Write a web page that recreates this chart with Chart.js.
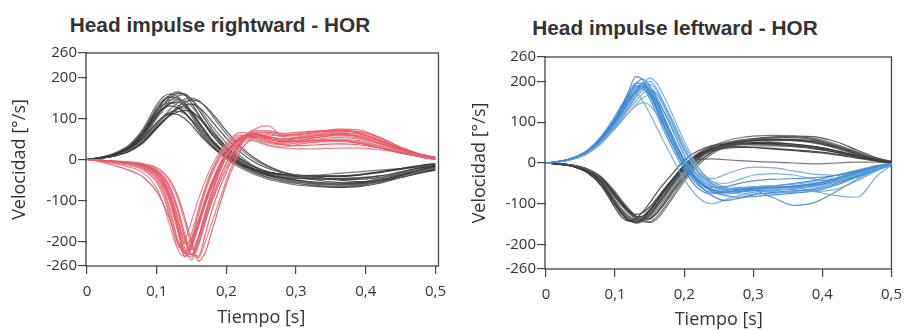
<!DOCTYPE html>
<html>
<head>
<meta charset="utf-8">
<title>Head impulse - HOR</title>
<script src="https://cdn.jsdelivr.net/npm/chart.js@4.4.0/dist/chart.umd.min.js"></script>
<style>
  body { margin: 0; background: #fff; }
  #wrap { position: relative; width: 911px; height: 331px; overflow: hidden; }
  .titulo {
    position: absolute; width: 400px; text-align: center; white-space: nowrap;
    font-family: "Liberation Sans", Arial, sans-serif; font-weight: bold;
    font-size: 20.8px; line-height: 24px; color: #333;
  }
  canvas { position: absolute; top: 0; }
</style>
</head>
<body>
<div id="wrap">
  <div class="titulo" style="left: 20px; top: 13px;">Head impulse rightward - HOR</div>
  <div class="titulo" style="left: 475px; top: 16px;">Head impulse leftward - HOR</div>
  <canvas id="derecha" width="455" height="331" style="left: 0;"></canvas>
  <canvas id="izquierda" width="456" height="331" style="left: 455px;"></canvas>
</div>
<script>
// sample times (s), shared by every trace
var tiempo = [0, 0.02, 0.04, 0.06, 0.08, 0.10, 0.11, 0.12, 0.13, 0.14, 0.15, 0.16, 0.17, 0.18,
              0.20, 0.22, 0.24, 0.26, 0.28, 0.30, 0.33, 0.36, 0.39, 0.42, 0.45, 0.48, 0.50];

var xTicks = [0, 0.1, 0.2, 0.3, 0.4, 0.5];
var xTickLabels = ['0', '0,1', '0,2', '0,3', '0,4', '0,5'];
var yTicks = [-260, -200, -100, 0, 100, 200, 260];

// rightward impulses: head velocity (grey)
var cabezaDer = [
  [0, 4, 13, 30, 64, 118, 142, 158, 165, 158, 138, 110, 82, 58, 22, -6, -24, -36, -44, -50, -55, -58, -57, -50, -38, -24, -16],
  [0, 5, 15, 33, 70, 128, 148, 155, 148, 130, 106, 80, 56, 36, 6, -16, -32, -44, -52, -58, -64, -66, -62, -52, -38, -26, -20],
  [0, 4, 12, 27, 58, 106, 126, 137, 140, 132, 114, 90, 66, 44, 12, -12, -28, -38, -44, -46, -48, -48, -46, -40, -30, -20, -14],
  [0, 3, 10, 22, 46, 86, 106, 124, 138, 147, 150, 144, 128, 106, 62, 26, 0, -18, -30, -38, -44, -48, -48, -44, -36, -28, -22],
  [0, 4, 12, 26, 52, 90, 104, 112, 110, 100, 84, 64, 46, 30, 6, -12, -24, -32, -36, -38, -40, -40, -38, -32, -24, -16, -12],
  [0, 4, 11, 25, 54, 104, 126, 144, 155, 158, 148, 128, 104, 80, 40, 8, -16, -32, -42, -50, -58, -62, -62, -56, -44, -30, -22],
  [0, 5, 14, 31, 64, 112, 126, 131, 126, 114, 96, 74, 52, 34, 6, -16, -32, -44, -52, -58, -64, -68, -66, -58, -44, -30, -24],
  [0, 3, 10, 24, 52, 100, 122, 138, 145, 143, 130, 110, 86, 64, 26, -4, -24, -38, -48, -54, -60, -62, -58, -48, -34, -22, -16],
  [0, 3, 9, 20, 42, 80, 96, 108, 116, 120, 116, 104, 86, 66, 30, 2, -18, -30, -36, -40, -42, -42, -38, -30, -22, -14, -10],
  [0, 5, 16, 35, 74, 134, 154, 160, 154, 136, 110, 84, 60, 40, 10, -12, -26, -34, -38, -40, -38, -34, -30, -26, -22, -18, -16],
  [0, 3, 9, 19, 40, 76, 94, 110, 124, 132, 135, 128, 112, 92, 52, 18, -6, -22, -32, -38, -44, -50, -54, -52, -44, -32, -26],
  [0, 4, 13, 29, 60, 112, 134, 146, 148, 138, 118, 94, 70, 48, 16, -8, -24, -34, -40, -44, -46, -46, -44, -40, -34, -28, -24],
  [0, 4, 14, 32, 68, 122, 144, 152, 150, 138, 116, 90, 66, 46, 14, -10, -28, -40, -48, -54, -60, -62, -60, -52, -40, -26, -18],
  [0, 3, 10, 22, 46, 84, 102, 116, 124, 126, 118, 102, 82, 62, 26, -2, -22, -36, -46, -52, -58, -60, -56, -46, -32, -20, -14],
  [0, 4, 12, 28, 60, 110, 134, 152, 161, 160, 146, 122, 96, 72, 32, 2, -18, -30, -38, -42, -46, -48, -48, -44, -36, -26, -20],
  [0, 5, 15, 34, 70, 120, 134, 138, 132, 116, 94, 70, 48, 30, 2, -20, -36, -48, -56, -62, -66, -68, -64, -54, -40, -26, -20],
  [0, 3, 9, 20, 42, 76, 94, 112, 128, 140, 145, 142, 130, 112, 70, 32, 4, -16, -30, -40, -50, -56, -58, -54, -44, -32, -26],
  [0, 4, 11, 25, 50, 90, 106, 116, 118, 112, 98, 80, 60, 42, 12, -10, -24, -32, -36, -38, -40, -40, -36, -30, -22, -14, -10]
];

// rightward impulses: eye velocity (red)
var ojoDer = [
  [0, -2, -5, -9, -15, -34, -58, -100, -165, -238, -215, -160, -105, -60, 15, 55, 62, 52, 46, 50, 58, 62, 56, 40, 24, 10, 4],
  [0, -3, -7, -12, -22, -50, -85, -140, -205, -222, -180, -120, -66, -22, 38, 66, 60, 50, 48, 54, 60, 62, 54, 38, 22, 8, 2],
  [0, -2, -5, -8, -13, -28, -45, -75, -125, -190, -232, -205, -150, -100, -20, 40, 70, 70, 64, 66, 70, 72, 66, 48, 28, 12, 6],
  [0, -2, -4, -7, -11, -22, -35, -58, -95, -150, -210, -240, -200, -150, -50, 30, 66, 64, 56, 58, 62, 66, 60, 42, 24, 10, 4],
  [0, -6, -15, -26, -42, -78, -110, -152, -200, -230, -205, -150, -95, -50, 18, 50, 56, 50, 44, 44, 46, 46, 40, 28, 16, 6, 0],
  [0, -2, -5, -9, -14, -32, -52, -88, -150, -215, -245, -210, -150, -95, -10, 48, 74, 82, 56, 46, 48, 50, 46, 34, 20, 8, 2],
  [0, -2, -5, -8, -13, -30, -50, -85, -140, -205, -195, -150, -100, -55, 15, 50, 56, 46, 36, 34, 36, 38, 36, 28, 18, 8, 4],
  [0, -3, -6, -10, -18, -42, -72, -125, -195, -228, -200, -135, -78, -32, 30, 54, 46, 34, 30, 36, 44, 48, 44, 32, 18, 8, 2],
  [0, -2, -4, -6, -10, -20, -32, -52, -88, -140, -200, -248, -225, -170, -60, 20, 54, 60, 58, 60, 66, 74, 72, 54, 30, 12, 4],
  [0, -2, -6, -10, -17, -38, -62, -105, -170, -220, -205, -160, -105, -60, 10, 44, 46, 36, 28, 26, 26, 28, 28, 24, 16, 6, 0],
  [0, -2, -5, -9, -15, -34, -56, -95, -160, -225, -238, -195, -135, -80, 6, 46, 60, 52, 44, 46, 54, 60, 58, 44, 26, 10, 2],
  [0, -3, -7, -12, -20, -46, -78, -130, -198, -226, -192, -130, -74, -30, 24, 50, 50, 42, 40, 44, 50, 54, 50, 38, 22, 10, 4],
  [0, -3, -7, -12, -20, -42, -66, -108, -172, -228, -232, -188, -128, -74, 10, 52, 64, 56, 50, 52, 58, 64, 62, 46, 26, 10, 2],
  [0, -4, -10, -18, -32, -70, -112, -168, -214, -200, -150, -96, -50, -12, 40, 60, 52, 40, 36, 40, 46, 48, 42, 30, 16, 6, 0],
  [0, -2, -5, -8, -12, -26, -42, -70, -118, -180, -232, -236, -180, -120, -30, 36, 64, 66, 60, 62, 68, 70, 64, 46, 26, 10, 4],
  [0, -3, -7, -11, -18, -40, -64, -108, -170, -226, -212, -164, -110, -64, 8, 48, 58, 50, 42, 40, 42, 44, 40, 30, 18, 8, 2],
  [0, -2, -5, -9, -15, -34, -54, -90, -145, -198, -220, -190, -140, -90, -8, 42, 60, 56, 50, 54, 62, 70, 68, 52, 30, 12, 6],
  [0, -3, -8, -14, -25, -56, -92, -150, -218, -236, -196, -128, -70, -26, 32, 58, 54, 44, 40, 46, 54, 58, 52, 38, 22, 8, 2]
];

// leftward impulses: head velocity (grey)
var cabezaIzq = [
  [0, -3, -8, -20, -48, -100, -124, -140, -146, -138, -118, -94, -70, -48, -8, 20, 36, 46, 52, 56, 58, 56, 50, 38, 22, 8, 2],
  [0, -2, -7, -17, -40, -82, -104, -122, -134, -140, -130, -110, -88, -64, -20, 12, 32, 44, 50, 54, 56, 54, 48, 36, 20, 8, 0],
  [0, -3, -9, -24, -56, -110, -134, -142, -136, -120, -98, -74, -52, -32, 6, 30, 42, 46, 48, 50, 50, 46, 40, 30, 18, 6, 0],
  [0, -2, -6, -15, -34, -70, -92, -112, -130, -142, -146, -138, -118, -94, -46, -6, 22, 38, 46, 50, 54, 56, 54, 44, 28, 10, 2],
  [0, -2, -7, -18, -42, -84, -104, -118, -126, -122, -108, -88, -66, -46, -10, 18, 34, 42, 46, 48, 48, 46, 40, 30, 18, 6, 0],
  [0, -3, -8, -21, -50, -96, -120, -136, -142, -136, -120, -98, -74, -52, -12, 18, 40, 54, 62, 66, 68, 66, 58, 42, 24, 8, 0],
  [0, -2, -6, -16, -38, -78, -100, -118, -132, -140, -138, -124, -104, -80, -36, 2, 26, 40, 46, 48, 46, 42, 36, 26, 16, 6, 0],
  [0, -3, -8, -20, -46, -94, -120, -138, -148, -142, -124, -100, -74, -50, -8, 24, 42, 50, 54, 58, 62, 64, 60, 46, 26, 8, 0],
  [0, -2, -7, -18, -40, -80, -102, -120, -132, -130, -116, -96, -74, -52, -12, 16, 30, 36, 38, 38, 36, 32, 28, 22, 14, 6, 2],
  [0, -3, -9, -22, -52, -102, -126, -140, -142, -132, -114, -92, -68, -46, -6, 24, 38, 44, 46, 46, 44, 40, 34, 26, 16, 6, 0],
  [0, -2, -6, -15, -35, -74, -96, -116, -130, -138, -136, -122, -100, -76, -30, 8, 34, 48, 56, 60, 64, 66, 64, 52, 32, 12, 4],
  [0, -3, -8, -20, -46, -92, -114, -130, -138, -132, -116, -94, -70, -48, -6, 8, 10, 8, 6, 4, 2, 0, -2, 0, 2, 2, 0],
  [0, -3, -9, -22, -50, -98, -122, -138, -144, -140, -126, -104, -80, -56, -14, 16, 34, 44, 50, 54, 56, 56, 52, 40, 24, 10, 2],
  [0, -2, -7, -17, -40, -84, -106, -124, -136, -138, -128, -108, -84, -60, -16, 14, 30, 38, 40, 42, 42, 40, 36, 28, 18, 8, 2],
  [0, -3, -8, -20, -46, -92, -116, -132, -140, -138, -126, -106, -84, -60, -18, 12, 32, 44, 52, 58, 62, 62, 56, 42, 24, 8, 0],
  [0, -2, -6, -16, -38, -80, -102, -120, -132, -138, -132, -116, -94, -70, -24, 10, 30, 40, 44, 46, 46, 44, 38, 28, 16, 6, 0],
  [0, -3, -9, -23, -54, -104, -128, -142, -144, -134, -116, -92, -68, -46, -6, 22, 36, 40, 40, 38, 34, 30, 26, 20, 12, 4, 0],
  [0, -2, -6, -15, -36, -76, -98, -118, -134, -144, -144, -132, -112, -88, -40, 0, 28, 44, 52, 56, 58, 58, 54, 42, 26, 10, 2]
];

// leftward impulses: eye velocity (blue)
var ojoIzq = [
  [0, 4, 12, 28, 58, 104, 140, 178, 212, 204, 172, 132, 92, 56, -10, -54, -72, -72, -66, -62, -60, -56, -50, -38, -22, -8, -2],
  [0, 3, 10, 24, 50, 88, 112, 138, 164, 190, 208, 196, 166, 130, 54, -10, -50, -70, -76, -72, -68, -64, -58, -46, -28, -12, -4],
  [0, 4, 12, 28, 58, 100, 126, 154, 178, 192, 180, 148, 110, 74, 6, -42, -64, -70, -66, -62, -60, -58, -52, -40, -24, -10, -4],
  [0, 3, 10, 24, 50, 86, 106, 124, 140, 148, 142, 120, 92, 62, 4, -38, -58, -64, -60, -58, -56, -52, -46, -36, -22, -8, -2],
  [0, 4, 13, 30, 62, 110, 142, 172, 196, 196, 174, 138, 98, 60, -6, -50, -80, -92, -86, -78, -72, -68, -64, -50, -30, -12, -4],
  [0, 3, 11, 26, 54, 94, 118, 144, 170, 190, 200, 184, 150, 112, 36, -22, -52, -62, -62, -60, -62, -66, -70, -64, -44, -18, -6],
  [0, 4, 12, 28, 60, 104, 132, 162, 190, 186, 158, 120, 82, 46, -18, -62, -76, -68, -60, -66, -86, -104, -96, -70, -40, -16, -6],
  [0, 3, 10, 24, 50, 90, 112, 136, 160, 178, 184, 170, 140, 106, 34, -24, -54, -64, -62, -58, -56, -60, -70, -80, -84, -30, -6],
  [0, 4, 13, 30, 64, 110, 138, 168, 194, 206, 190, 156, 116, 78, 8, -40, -60, -58, -50, -44, -40, -38, -36, -30, -20, -8, -2],
  [0, 4, 14, 32, 66, 116, 144, 166, 170, 152, 122, 88, 54, 22, -40, -84, -100, -90, -80, -76, -74, -70, -62, -46, -26, -10, -4],
  [0, 3, 11, 26, 54, 96, 122, 150, 172, 185, 184, 162, 128, 92, 20, -32, -58, -66, -64, -60, -56, -50, -42, -30, -18, -6, 0],
  [0, 4, 12, 28, 58, 102, 130, 158, 182, 196, 186, 154, 116, 78, 10, -30, -38, -28, -16, -10, -12, -20, -28, -30, -22, -10, -4],
  [0, 4, 12, 27, 56, 98, 124, 152, 176, 188, 176, 144, 106, 70, 4, -44, -68, -76, -72, -68, -66, -62, -56, -44, -26, -10, -2],
  [0, 3, 10, 23, 48, 84, 104, 124, 144, 160, 166, 154, 128, 98, 30, -20, -50, -62, -64, -62, -60, -56, -50, -40, -26, -10, -4],
  [0, 4, 13, 30, 62, 108, 136, 164, 186, 190, 168, 130, 92, 56, -4, -46, -70, -80, -84, -82, -78, -74, -68, -54, -34, -14, -4],
  [0, 3, 11, 25, 52, 92, 116, 142, 166, 184, 192, 178, 146, 110, 36, -20, -46, -50, -40, -30, -26, -30, -40, -44, -34, -14, -4],
  [0, 4, 12, 28, 58, 102, 128, 154, 176, 182, 166, 134, 98, 64, 2, -44, -66, -72, -70, -66, -62, -58, -54, -46, -34, -16, -6],
  [0, 3, 10, 24, 50, 88, 110, 132, 152, 170, 178, 170, 146, 116, 44, -12, -44, -60, -66, -68, -70, -72, -68, -54, -32, -12, -2]
];

// two tones per group, alternated trace by trace
var GRISES = ['rgba(52, 52, 52, 0.85)', 'rgba(96, 96, 96, 0.85)'];
var ROJOS = ['rgba(232, 84, 98, 0.9)', 'rgba(226, 122, 132, 0.9)'];
var AZULES = ['rgba(62, 138, 214, 0.9)', 'rgba(112, 166, 216, 0.9)'];
var TEXTO = '#333';

// turn a list of traces into line datasets
function trazos(series, colores) {
  return series.map(function(valores, n) {
    return {
      data: valores.map(function(v, i) { return { x: tiempo[i], y: v }; }),
      borderColor: colores[n % colores.length],
      borderWidth: 1.2,
      pointRadius: 0,
      fill: false,
      cubicInterpolationMode: 'monotone'
    };
  });
}

// box around the plot area
var marco = {
  id: 'marco',
  beforeDatasetsDraw: function(chart, args, opts) {
    var a = chart.chartArea;
    var ctx = chart.ctx;
    ctx.save();
    ctx.strokeStyle = '#444';
    ctx.lineWidth = 1.3;
    ctx.strokeRect(a.left - 1, a.top, a.right - a.left + 1 + (opts.extra || 0), a.bottom - a.top);
    ctx.restore();
  }
};

function grafico(id, datasets, g) {
  var ctx = document.getElementById(id).getContext('2d');
  return new Chart(ctx, {
    type: 'line',
    data: { datasets: datasets },
    plugins: [marco],
    options: {
      responsive: false,
      animation: false,
      events: [],
      layout: { padding: { left: 0, right: g.right, top: g.top, bottom: 0 } },
      plugins: {
        legend: { display: false },
        tooltip: { enabled: false },
        marco: { extra: g.extra }
      },
      scales: {
        x: {
          type: 'linear',
          min: 0,
          max: 0.5,
          afterBuildTicks: function(s) { s.ticks = xTicks.map(function(v) { return { value: v }; }); },
          afterFit: function(s) { s.height = g.xHeight; },
          border: { display: false },
          grid: { drawOnChartArea: false, drawTicks: true, tickLength: 8, color: '#444', lineWidth: 1.2 },
          ticks: {
            autoSkip: false,
            maxRotation: 0,
            padding: 9,
            color: TEXTO,
            font: { family: 'Open Sans', size: 15 },
            callback: function(v, i) { return xTickLabels[i]; }
          },
          title: {
            display: true,
            text: 'Tiempo [s]',
            color: TEXTO,
            font: { family: 'Open Sans', size: 18 },
            padding: { top: 0, bottom: g.xTitlePad }
          }
        },
        y: {
          min: -260,
          max: 260,
          afterBuildTicks: function(s) { s.ticks = yTicks.map(function(v) { return { value: v }; }); },
          afterFit: function(s) { s.width = g.left; },
          border: { display: false },
          grid: { drawOnChartArea: false, drawTicks: true, tickLength: 9, color: '#444', lineWidth: 1.2 },
          ticks: {
            autoSkip: false,
            padding: 1,
            color: TEXTO,
            font: { family: 'Open Sans', size: 15 }
          },
          title: {
            display: true,
            text: 'Velocidad [°/s]',
            color: TEXTO,
            font: { family: 'Open Sans', size: 18 },
            padding: { top: g.yTitlePad, bottom: 0 }
          }
        }
      }
    }
  });
}

// coloured eye traces go first so they are drawn on top
grafico('derecha', trazos(ojoDer, ROJOS).concat(trazos(cabezaDer, GRISES)),
  { left: 87, right: 15, top: 53, xHeight: 65, xTitlePad: 2, yTitlePad: 9, extra: 3 });
grafico('izquierda', trazos(ojoIzq, AZULES).concat(trazos(cabezaIzq, GRISES)),
  { left: 91, right: 12, top: 57, xHeight: 62, xTitlePad: 0, yTitlePad: 14, extra: 0 });
</script>
</body>
</html>
